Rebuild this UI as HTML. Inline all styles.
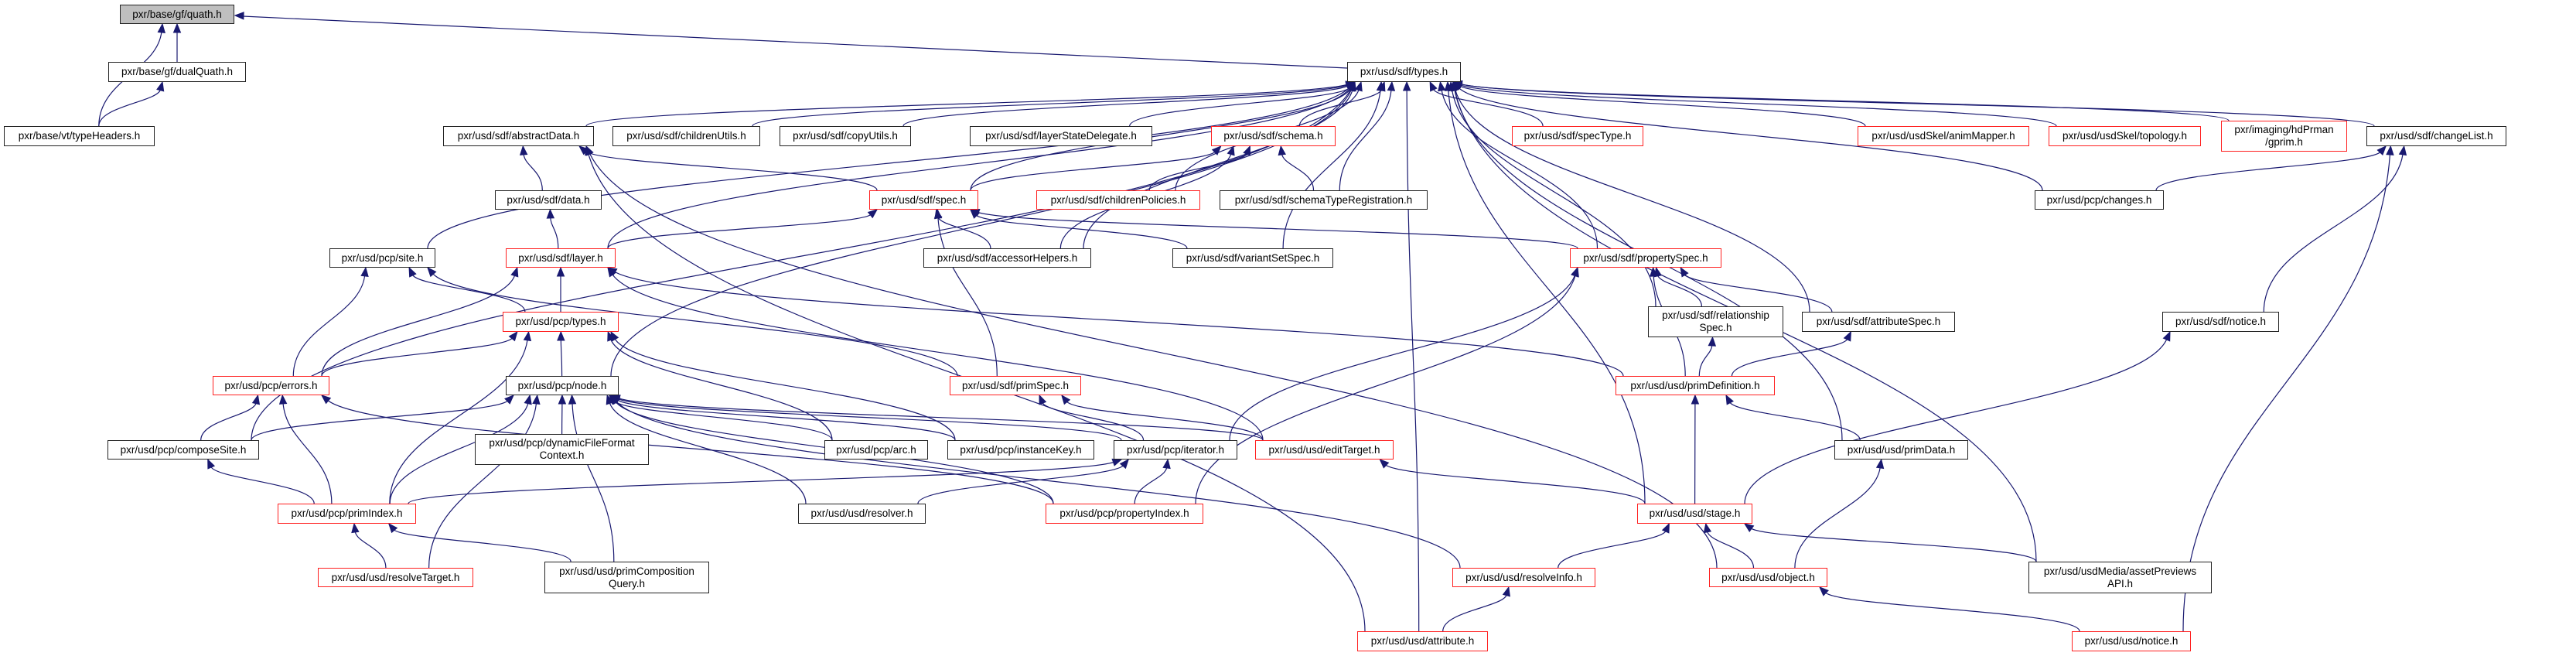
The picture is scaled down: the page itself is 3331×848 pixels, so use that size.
<!DOCTYPE html>
<html><head><meta charset="utf-8">
<style>
html,body{margin:0;padding:0;background:#fff;}
#wrap{position:relative;width:3331px;height:848px;overflow:hidden;background:#fff;}
svg{position:absolute;left:0;top:0;}
.n{position:absolute;box-sizing:border-box;border:1.5px solid #222;background:#fff;font-family:"Liberation Sans","DejaVu Sans",sans-serif;font-size:13.5px;color:#000;display:flex;align-items:center;justify-content:center;text-align:center;line-height:16px;white-space:nowrap;}
.r{border-color:#ff2020;}
.g{background:#bfbfbf;}
</style></head><body><div id="wrap">
<svg id="sv" width="3331" height="848" xmlns="http://www.w3.org/2000/svg"></svg>
<div class="n g" style="left:155px;top:6px;width:148px;height:25px">pxr/base/gf/quath.h</div>
<div class="n" style="left:140px;top:80px;width:178px;height:26px">pxr/base/gf/dualQuath.h</div>
<div class="n" style="left:5px;top:163px;width:195px;height:26px">pxr/base/vt/typeHeaders.h</div>
<div class="n" style="left:1742px;top:80px;width:147px;height:26px">pxr/usd/sdf/types.h</div>
<div class="n" style="left:573px;top:163px;width:195px;height:26px">pxr/usd/sdf/abstractData.h</div>
<div class="n" style="left:792px;top:163px;width:191px;height:26px">pxr/usd/sdf/childrenUtils.h</div>
<div class="n" style="left:1008px;top:163px;width:170px;height:26px">pxr/usd/sdf/copyUtils.h</div>
<div class="n" style="left:1254px;top:163px;width:236px;height:26px">pxr/usd/sdf/layerStateDelegate.h</div>
<div class="n r" style="left:1566px;top:163px;width:161px;height:26px">pxr/usd/sdf/schema.h</div>
<div class="n r" style="left:1955px;top:163px;width:170px;height:26px">pxr/usd/sdf/specType.h</div>
<div class="n r" style="left:2402px;top:163px;width:222px;height:26px">pxr/usd/usdSkel/animMapper.h</div>
<div class="n r" style="left:2649px;top:163px;width:197px;height:26px">pxr/usd/usdSkel/topology.h</div>
<div class="n r" style="left:2872px;top:156px;width:163px;height:40px">pxr/imaging/hdPrman<br>/gprim.h</div>
<div class="n" style="left:3060px;top:163px;width:181px;height:26px">pxr/usd/sdf/changeList.h</div>
<div class="n" style="left:640px;top:246px;width:138px;height:25px">pxr/usd/sdf/data.h</div>
<div class="n r" style="left:1124px;top:246px;width:141px;height:25px">pxr/usd/sdf/spec.h</div>
<div class="n r" style="left:1340px;top:246px;width:212px;height:25px">pxr/usd/sdf/childrenPolicies.h</div>
<div class="n" style="left:1577px;top:246px;width:269px;height:25px">pxr/usd/sdf/schemaTypeRegistration.h</div>
<div class="n" style="left:2631px;top:246px;width:167px;height:25px">pxr/usd/pcp/changes.h</div>
<div class="n" style="left:426px;top:321px;width:137px;height:25px">pxr/usd/pcp/site.h</div>
<div class="n r" style="left:654px;top:321px;width:142px;height:25px">pxr/usd/sdf/layer.h</div>
<div class="n" style="left:1194px;top:321px;width:217px;height:25px">pxr/usd/sdf/accessorHelpers.h</div>
<div class="n" style="left:1516px;top:321px;width:208px;height:25px">pxr/usd/sdf/variantSetSpec.h</div>
<div class="n r" style="left:2030px;top:321px;width:196px;height:25px">pxr/usd/sdf/propertySpec.h</div>
<div class="n" style="left:2131px;top:396px;width:175px;height:40px">pxr/usd/sdf/relationship<br>Spec.h</div>
<div class="n" style="left:2330px;top:403px;width:198px;height:26px">pxr/usd/sdf/attributeSpec.h</div>
<div class="n" style="left:2796px;top:403px;width:151px;height:26px">pxr/usd/sdf/notice.h</div>
<div class="n r" style="left:650px;top:403px;width:150px;height:26px">pxr/usd/pcp/types.h</div>
<div class="n r" style="left:275px;top:486px;width:151px;height:25px">pxr/usd/pcp/errors.h</div>
<div class="n" style="left:654px;top:486px;width:146px;height:25px">pxr/usd/pcp/node.h</div>
<div class="n r" style="left:1228px;top:486px;width:170px;height:25px">pxr/usd/sdf/primSpec.h</div>
<div class="n r" style="left:2089px;top:486px;width:206px;height:25px">pxr/usd/usd/primDefinition.h</div>
<div class="n" style="left:139px;top:569px;width:196px;height:25px">pxr/usd/pcp/composeSite.h</div>
<div class="n" style="left:614px;top:561px;width:225px;height:40px">pxr/usd/pcp/dynamicFileFormat<br>Context.h</div>
<div class="n" style="left:1066px;top:569px;width:134px;height:25px">pxr/usd/pcp/arc.h</div>
<div class="n" style="left:1225px;top:569px;width:190px;height:25px">pxr/usd/pcp/instanceKey.h</div>
<div class="n" style="left:1440px;top:569px;width:160px;height:25px">pxr/usd/pcp/iterator.h</div>
<div class="n r" style="left:1623px;top:569px;width:179px;height:25px">pxr/usd/usd/editTarget.h</div>
<div class="n" style="left:2372px;top:569px;width:173px;height:25px">pxr/usd/usd/primData.h</div>
<div class="n r" style="left:359px;top:651px;width:179px;height:26px">pxr/usd/pcp/primIndex.h</div>
<div class="n" style="left:1032px;top:651px;width:165px;height:26px">pxr/usd/usd/resolver.h</div>
<div class="n r" style="left:1352px;top:651px;width:204px;height:26px">pxr/usd/pcp/propertyIndex.h</div>
<div class="n r" style="left:2117px;top:651px;width:149px;height:26px">pxr/usd/usd/stage.h</div>
<div class="n r" style="left:411px;top:734px;width:201px;height:25px">pxr/usd/usd/resolveTarget.h</div>
<div class="n" style="left:704px;top:726px;width:213px;height:41px">pxr/usd/usd/primComposition<br>Query.h</div>
<div class="n r" style="left:1878px;top:734px;width:185px;height:25px">pxr/usd/usd/resolveInfo.h</div>
<div class="n r" style="left:2210px;top:734px;width:153px;height:25px">pxr/usd/usd/object.h</div>
<div class="n" style="left:2623px;top:726px;width:237px;height:41px">pxr/usd/usdMedia/assetPreviews<br>API.h</div>
<div class="n r" style="left:1755px;top:816px;width:169px;height:26px">pxr/usd/usd/attribute.h</div>
<div class="n r" style="left:2679px;top:816px;width:154px;height:26px">pxr/usd/usd/notice.h</div>
</div>
<script>
var N={quath:[155,6,303,31],dualQuath:[140,80,318,106],typeHeaders:[5,163,200,189],sdfTypes:[1742,80,1889,106],
abstractData:[573,163,768,189],childrenUtils:[792,163,983,189],copyUtils:[1008,163,1178,189],lsd:[1254,163,1490,189],
schema:[1566,163,1727,189],specType:[1955,163,2125,189],animMapper:[2402,163,2624,189],topology:[2649,163,2846,189],
gprim:[2872,156,3035,196],changeList:[3060,163,3241,189],data:[640,246,778,271],spec:[1124,246,1265,271],
childrenPolicies:[1340,246,1552,271],str:[1577,246,1846,271],changes:[2631,246,2798,271],site:[426,321,563,346],
layer:[654,321,796,346],accessorHelpers:[1194,321,1411,346],variantSetSpec:[1516,321,1724,346],propertySpec:[2030,321,2226,346],
relSpec:[2131,396,2306,436],attributeSpec:[2330,403,2528,429],sdfNotice:[2796,403,2947,429],pcpTypes:[650,403,800,429],
errors:[275,486,426,511],node:[654,486,800,511],primSpec:[1228,486,1398,511],primDefinition:[2089,486,2295,511],
composeSite:[139,569,335,594],dynFF:[614,561,839,601],arc:[1066,569,1200,594],instanceKey:[1225,569,1415,594],
iterator:[1440,569,1600,594],editTarget:[1623,569,1802,594],primData:[2372,569,2545,594],primIndex:[359,651,538,677],
resolver:[1032,651,1197,677],propertyIndex:[1352,651,1556,677],stage:[2117,651,2266,677],resolveTarget:[411,734,612,759],
pcq:[704,726,917,767],resolveInfo:[1878,734,2063,759],object:[2210,734,2363,759],assetPreviews:[2623,726,2860,767],
attribute:[1755,816,1924,842],usdNotice:[2679,816,2833,842]};
var E=[["typeHeaders","quath"],["typeHeaders","dualQuath"],["dualQuath","quath"],
["abstractData","sdfTypes"],["childrenUtils","sdfTypes"],["copyUtils","sdfTypes"],["lsd","sdfTypes"],["schema","sdfTypes"],
["spec","sdfTypes"],["childrenPolicies","sdfTypes"],["str","sdfTypes"],["accessorHelpers","sdfTypes"],["variantSetSpec","sdfTypes"],
["specType","sdfTypes"],["propertySpec","sdfTypes"],["relSpec","sdfTypes"],["attributeSpec","sdfTypes"],["animMapper","sdfTypes"],
["topology","sdfTypes"],["gprim","sdfTypes"],["changeList","sdfTypes"],["changes","sdfTypes"],["primData","sdfTypes"],
["stage","sdfTypes"],["attribute","sdfTypes"],["assetPreviews","sdfTypes"],["layer","sdfTypes"],["site","sdfTypes"],
["composeSite","sdfTypes"],["node","sdfTypes"],
["data","abstractData"],["spec","abstractData"],["object","abstractData"],["attribute","abstractData"],
["layer","data"],["layer","spec"],["accessorHelpers","spec"],["variantSetSpec","spec"],["primSpec","spec"],["propertySpec","spec"],
["spec","schema"],["childrenPolicies","schema"],["str","schema"],["accessorHelpers","schema"],
["pcpTypes","layer"],["errors","layer"],["editTarget","layer"],["primDefinition","layer"],
["pcpTypes","site"],["errors","site"],["primSpec","site"],
["errors","pcpTypes"],["node","pcpTypes"],["primIndex","pcpTypes"],["arc","pcpTypes"],["instanceKey","pcpTypes"],
["composeSite","errors"],["primIndex","errors"],["propertyIndex","errors"],
["composeSite","node"],["primIndex","node"],["resolveTarget","node"],["dynFF","node"],["pcq","node"],["arc","node"],
["instanceKey","node"],["iterator","node"],["editTarget","node"],["resolver","node"],["propertyIndex","node"],["resolveInfo","node"],
["primIndex","composeSite"],["resolveTarget","primIndex"],["pcq","primIndex"],
["primIndex","iterator"],["resolver","iterator"],["propertyIndex","iterator"],
["iterator","primSpec"],["editTarget","primSpec"],
["relSpec","propertySpec"],["attributeSpec","propertySpec"],["primDefinition","propertySpec"],["iterator","propertySpec"],["propertyIndex","propertySpec"],
["primDefinition","relSpec"],["primDefinition","attributeSpec"],
["stage","primDefinition"],["primData","primDefinition"],["stage","editTarget"],
["resolveInfo","stage"],["object","stage"],["assetPreviews","stage"],["stage","sdfNotice"],
["object","primData"],["attribute","resolveInfo"],["usdNotice","object"],
["changes","changeList"],["sdfNotice","changeList"],["usdNotice","changeList"]];
var s='';var C='#191970';
function cl(v,a,b){return Math.max(a,Math.min(b,v));}
function arrow(x,y,dx,dy){var L=Math.sqrt(dx*dx+dy*dy)||1;dx/=L;dy/=L;var bx=x-dx*11,by=y-dy*11,px=-dy*4.5,py=dx*4.5;
return '<polygon points="'+x+','+y+' '+(bx+px)+','+(by+py)+' '+(bx-px)+','+(by-py)+'" fill="'+C+'" stroke="'+C+'"/>';}
E.forEach(function(e){var c=N[e[0]],p=N[e[1]];var ccx=(c[0]+c[2])/2,pcx=(p[0]+p[2])/2;
var sx=cl(ccx+(pcx-ccx)*0.2,c[0]+10,c[2]-10),sy=c[1];var ex=cl(pcx+(ccx-pcx)*0.15,p[0]+10,p[2]-10),ey=p[3];
var dy=Math.max(30,sy-ey);var d=dy*0.45;
var c2x=ex+(sx-ex)*0.08,c2y=ey+d;
var ddx=ex-c2x,ddy=ey-c2y;var L=Math.sqrt(ddx*ddx+ddy*ddy);var exs=ex-ddx/L*10,eys=ey-ddy/L*10;
s+='<path d="M'+sx+','+sy+' C'+sx+','+(sy-d)+' '+c2x+','+c2y+' '+exs+','+eys+'" fill="none" stroke="'+C+'" stroke-width="1.2"/>';
s+=arrow(ex,ey,ddx,ddy);});
s+='<path d="M1742,88 C1200,60 700,40 314,21" fill="none" stroke="'+C+'" stroke-width="1.2"/>'+arrow(304,20,-1,-0.03);
document.getElementById('sv').innerHTML=s;
</script>
</body></html>
